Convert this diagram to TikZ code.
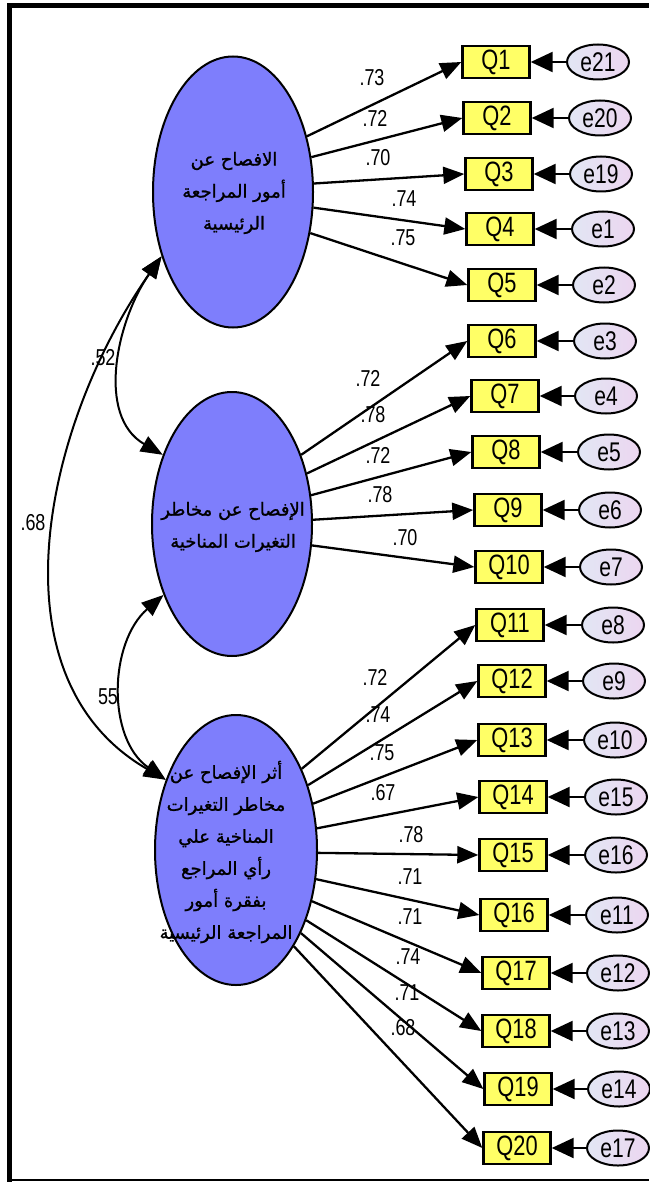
\documentclass[tikz,border=0pt]{standalone}
\usepackage{fontspec}
\setmainfont{Liberation Sans}
\newfontfamily\narrowfont[FakeStretch=0.78]{Liberation Sans}
\newfontfamily\arabicfont[Script=Arabic,FakeBold=1.2]{DejaVu Sans}
\TeXXeTstate=1
\usetikzlibrary{arrows.meta,shapes.geometric}
\definecolor{latfill}{RGB}{126,126,252}
\definecolor{obsfill}{RGB}{255,255,102}
\definecolor{errl}{RGB}{226,230,244}
\definecolor{errr}{RGB}{236,214,240}
\begin{document}
\begin{tikzpicture}[x=1pt,y=-1pt,
  lat/.style={ellipse, draw, line width=2pt, fill=latfill, inner sep=0pt},
  lattext/.style={align=center, font=\arabicfont\fontsize{18}{32}\selectfont, inner sep=0pt},
  obs/.style={rectangle, draw, line width=2.4pt, fill=obsfill, minimum width=67pt, minimum height=32pt, inner sep=0pt, font=\narrowfont\fontsize{28}{28}\selectfont},
  err/.style={ellipse, draw, line width=2pt, left color=errl, right color=errr, minimum width=62pt, minimum height=35pt, inner sep=0pt, font=\narrowfont\fontsize{27}{27}\selectfont},
  load/.style={line width=2.3pt, -{Triangle[length=21pt,width=17pt]}},
  errarr/.style={line width=2.3pt, -{Triangle[length=22pt,width=20pt]}},
  cov/.style={line width=2pt, {Triangle[length=22pt,width=17pt]}-{Triangle[length=22pt,width=17pt]}},
  val/.style={inner sep=0pt, font=\narrowfont\fontsize{23}{23}\selectfont}
]
\useasboundingbox (0,0) rectangle (649,1182);
% frame
\draw[line width=5pt] (9.5,1182) -- (9.5,6) -- (649,6);
\draw[line width=2pt] (9.5,1180) -- (649,1180);

% latent variables
\node[lat, minimum width=160pt, minimum height=271pt] (E1) at (233,192) {};
\node[lat, minimum width=160pt, minimum height=264pt] (E2) at (232,524) {};
\node[lat, minimum width=162pt, minimum height=270pt] (E3) at (236,850) {};
\node[lattext] (E1t) at (234,193) {\beginR الافصاح عن\endR\\\beginR أمور المراجعة\endR\\\beginR الرئيسية\endR};
\node[lattext] (E2t) at (233,527) {\beginR الإفصاح عن مخاطر\endR\\\beginR التغيرات المناخية\endR};
\node[lattext] (E3t) at (226,852) {\beginR أثر الإفصاح عن\endR\\\beginR مخاطر التغيرات\endR\\\beginR المناخية علي\endR\\\beginR رأي المراجع\endR\\\beginR بفقرة أمور\endR\\\beginR المراجعة الرئيسية\endR};

% observed, errors, loadings
\foreach \i/\qx/\qy/\el/\ex/\src/\ang/\lv/\lx/\ly in {
 1/496/62/e21/598/E1/37/.73/372/78,
 2/497/118/e20/600/E1/24/.72/375/118,
 3/499/174/e19/601/E1/6/.70/378/158,
 4/500/229/e1/603/E1/349/.74/404/199,
 5/502/285/e2/604/E1/332/.75/403/238,
 6/502/341/e3/605/E2/45/.72/368/378,
 7/505/396/e4/606/E2/34/.78/373/415,
 8/506/452/e5/609/E2/20/.72/378/455,
 9/508/510/e6/610/E2/3/.78/380/495,
 10/509/567/e7/611/E2/345/.70/405/538,
 11/510/625/e8/613/E3/51/.72/375/677,
 12/512/681/e9/614/E3/42/.74/378/715,
 13/512/740/e10/615/E3/31/.75/382/753,
 14/513/797/e15/616/E3/15/.67/383/793,
 15/513/855/e16/616/E3/358/.78/411/835,
 16/514/915/e11/617/E3/340/.71/410/877,
 17/516/973/e12/618/E3/326/.71/410/917,
 18/516/1031/e13/618/E3/315/.74/408/957,
 19/518/1089/e14/619/E3/308/.71/407/993,
 20/517/1148/e17/618/E3/301/.68/403/1028}{
  \node[obs] (Q\i) at (\qx,\qy) {Q\i};
  \node[err] (r\i) at (\ex,\qy) {\el};
  \draw[errarr] (r\i.west) -- (Q\i.east);
  \draw[load] (\src.\ang) -- (Q\i.west);
  \node[val] (l\i) at (\lx,\ly) {\lv};
}

% covariances
\draw[cov] (E1.222) to[out=235,in=150] (E2.135);
\draw[cov] (E1.222) to[out=235,in=150] (E3.135);
\draw[cov] (E2.226) to[out=221,in=145] (E3.135);
\node[val] (c1) at (103,358) {.52};
\node[val] (c2) at (33,523) {.68};
\node[val] (c3) at (108,697) {55};
\end{tikzpicture}
\end{document}
